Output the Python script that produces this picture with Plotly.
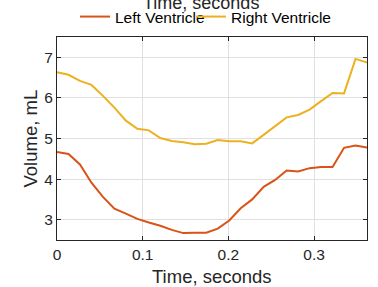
import plotly.graph_objects as go

time_s = [0, 0.0134, 0.0268, 0.0402, 0.0536, 0.067, 0.0804, 0.0938, 0.1072, 0.1206,
          0.134, 0.1474, 0.1608, 0.1742, 0.1876, 0.201, 0.2144, 0.2278, 0.2412, 0.2546,
          0.268, 0.2814, 0.2948, 0.3082, 0.3216, 0.335, 0.3484, 0.3618]
left_ventricle = [4.67, 4.62, 4.36, 3.91, 3.56, 3.27, 3.15, 3.02, 2.93, 2.85,
                  2.75, 2.67, 2.68, 2.68, 2.78, 2.98, 3.28, 3.50, 3.81, 3.98,
                  4.21, 4.19, 4.27, 4.30, 4.30, 4.77, 4.83, 4.78]
right_ventricle = [6.63, 6.57, 6.42, 6.32, 6.05, 5.76, 5.44, 5.24, 5.20, 5.01,
                   4.94, 4.91, 4.86, 4.87, 4.96, 4.93, 4.93, 4.88, 5.09, 5.30,
                   5.52, 5.58, 5.71, 5.92, 6.12, 6.11, 6.96, 6.87]
x_ticks = [0, 0.1, 0.2, 0.3]
x_tick_labels = ["0", "0.1", "0.2", "0.3"]
y_ticks = [3, 4, 5, 6, 7]
x_title = "Time, seconds"
y_title = "Volume, mL"

FONT = "Liberation Sans, Arial, sans-serif"
AX = "#262626"
W, H = 378, 287
ML, MR, MT, MB = 57, 11, 37, 47
PW, PH = W - ML - MR, H - MT - MB

fig = go.Figure()
fig.add_trace(go.Scatter(x=time_s, y=left_ventricle, mode="lines", name="Left Ventricle",
                         line=dict(color="#D95319", width=2), legend="legend",
                         showlegend=True))
fig.add_trace(go.Scatter(x=time_s, y=right_ventricle, mode="lines", name="Right Ventricle",
                         line=dict(color="#EDB120", width=2), legend="legend2",
                         showlegend=True))

axis_common = dict(showline=True, linecolor=AX, linewidth=1, mirror="ticks",
                   ticks="inside", ticklen=4, tickcolor=AX, showgrid=True,
                   gridcolor="#e0e0e0", gridwidth=1, zeroline=False, automargin=False,
                   tickfont=dict(family=FONT, size=15.5, color=AX))

fig.update_xaxes(range=[0, 0.3618], tickvals=x_ticks, ticktext=x_tick_labels, **axis_common)
fig.update_yaxes(range=[2.5, 7.5], tickvals=y_ticks, **axis_common)

title_font = dict(family=FONT, size=18.5, color=AX)
# bottom x-axis title
fig.add_annotation(text=x_title, xref="paper", yref="paper", x=0.5, y=-(276 - (MT + PH)) / PH,
                   xanchor="center", yanchor="middle", showarrow=False, font=title_font)
# y-axis title
fig.add_annotation(text=y_title, xref="paper", yref="paper", x=-(ML - 30) / PW, y=0.5,
                   xanchor="center", yanchor="middle", textangle=-90, showarrow=False,
                   font=title_font)
# top (clipped) duplicate title
fig.add_annotation(text=x_title, xref="paper", yref="paper", x=(201 - ML) / PW,
                   y=1 + (MT - 3) / PH,
                   xanchor="center", yanchor="middle", showarrow=False,
                   font=dict(family=FONT, size=18, color=AX))

legend_common = dict(orientation="h", xref="container", xanchor="left",
                     y=1 - 17 / H, yref="container", yanchor="middle",
                     font=dict(family=FONT, size=15.5, color="#000000"),
                     itemwidth=30, tracegroupgap=0, bgcolor="rgba(0,0,0,0)",
                     borderwidth=0, visible=True)

fig.update_layout(
    width=W, height=H,
    showlegend=True,
    margin=dict(l=ML, r=MR, t=MT, b=MB, autoexpand=False),
    plot_bgcolor="white", paper_bgcolor="white",
    font=dict(family=FONT, color=AX),
    legend=dict(x=75 / W, **legend_common),
    legend2=dict(x=191 / W, **legend_common),
)

fig.write_html("out.html", config={"displayModeBar": False},
               post_script="document.body.style.margin='0';document.body.style.padding='0';")
